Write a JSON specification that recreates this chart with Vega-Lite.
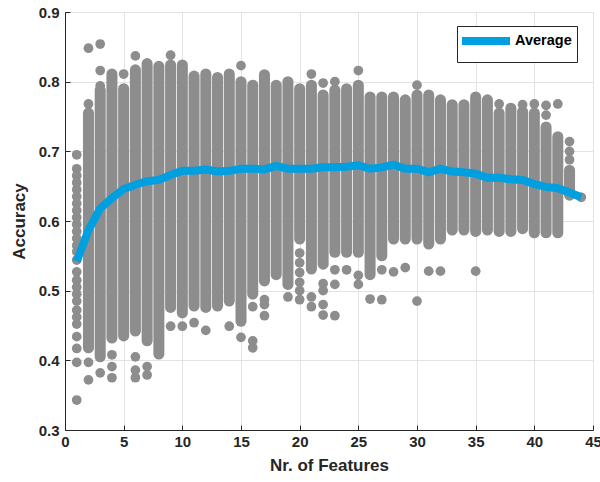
{
  "$schema": "https://vega.github.io/schema/vega-lite/v6.json",
  "width": 528,
  "height": 418,
  "autosize": {"type": "none"},
  "padding": {"left": 65, "top": 12, "right": 7, "bottom": 52},
  "background": "white",
  "datasets": {
    "spans": [
      {"n": 2, "lo": 0.418, "hi": 0.755}, {"n": 3, "lo": 0.405, "hi": 0.788},
      {"n": 4, "lo": 0.432, "hi": 0.811}, {"n": 5, "lo": 0.435, "hi": 0.79},
      {"n": 6, "lo": 0.442, "hi": 0.817}, {"n": 7, "lo": 0.428, "hi": 0.826},
      {"n": 8, "lo": 0.409, "hi": 0.822}, {"n": 9, "lo": 0.476, "hi": 0.824},
      {"n": 10, "lo": 0.468, "hi": 0.824}, {"n": 11, "lo": 0.478, "hi": 0.808},
      {"n": 12, "lo": 0.476, "hi": 0.811}, {"n": 13, "lo": 0.478, "hi": 0.806},
      {"n": 14, "lo": 0.485, "hi": 0.811}, {"n": 15, "lo": 0.456, "hi": 0.8},
      {"n": 16, "lo": 0.495, "hi": 0.795}, {"n": 17, "lo": 0.514, "hi": 0.81},
      {"n": 18, "lo": 0.523, "hi": 0.795}, {"n": 19, "lo": 0.509, "hi": 0.8},
      {"n": 20, "lo": 0.574, "hi": 0.79}, {"n": 21, "lo": 0.531, "hi": 0.795},
      {"n": 22, "lo": 0.538, "hi": 0.781}, {"n": 23, "lo": 0.555, "hi": 0.788},
      {"n": 24, "lo": 0.555, "hi": 0.79}, {"n": 25, "lo": 0.555, "hi": 0.795},
      {"n": 26, "lo": 0.523, "hi": 0.778}, {"n": 27, "lo": 0.55, "hi": 0.778},
      {"n": 28, "lo": 0.574, "hi": 0.778}, {"n": 29, "lo": 0.574, "hi": 0.774},
      {"n": 30, "lo": 0.574, "hi": 0.781}, {"n": 31, "lo": 0.567, "hi": 0.781},
      {"n": 32, "lo": 0.574, "hi": 0.774}, {"n": 33, "lo": 0.587, "hi": 0.767},
      {"n": 34, "lo": 0.587, "hi": 0.767}, {"n": 35, "lo": 0.585, "hi": 0.778},
      {"n": 36, "lo": 0.587, "hi": 0.774}, {"n": 37, "lo": 0.585, "hi": 0.755},
      {"n": 38, "lo": 0.585, "hi": 0.762}, {"n": 39, "lo": 0.589, "hi": 0.757},
      {"n": 40, "lo": 0.583, "hi": 0.755}, {"n": 41, "lo": 0.583, "hi": 0.735},
      {"n": 42, "lo": 0.583, "hi": 0.721}, {"n": 43, "lo": 0.637, "hi": 0.673}
    ],
    "points": [
      {"n": 1, "acc": 0.695}, {"n": 1, "acc": 0.675}, {"n": 1, "acc": 0.665},
      {"n": 1, "acc": 0.655}, {"n": 1, "acc": 0.645}, {"n": 1, "acc": 0.635},
      {"n": 1, "acc": 0.625}, {"n": 1, "acc": 0.615}, {"n": 1, "acc": 0.605},
      {"n": 1, "acc": 0.595}, {"n": 1, "acc": 0.585}, {"n": 1, "acc": 0.575},
      {"n": 1, "acc": 0.565}, {"n": 1, "acc": 0.556}, {"n": 1, "acc": 0.544},
      {"n": 1, "acc": 0.527}, {"n": 1, "acc": 0.515}, {"n": 1, "acc": 0.505},
      {"n": 1, "acc": 0.495}, {"n": 1, "acc": 0.485}, {"n": 1, "acc": 0.472},
      {"n": 1, "acc": 0.462}, {"n": 1, "acc": 0.452}, {"n": 1, "acc": 0.434},
      {"n": 1, "acc": 0.417}, {"n": 1, "acc": 0.397}, {"n": 1, "acc": 0.343},
      {"n": 2, "acc": 0.768}, {"n": 2, "acc": 0.848}, {"n": 2, "acc": 0.397}, {"n": 2, "acc": 0.372},
      {"n": 3, "acc": 0.854}, {"n": 3, "acc": 0.816}, {"n": 3, "acc": 0.794}, {"n": 3, "acc": 0.382},
      {"n": 4, "acc": 0.408}, {"n": 4, "acc": 0.391}, {"n": 4, "acc": 0.375},
      {"n": 5, "acc": 0.811},
      {"n": 6, "acc": 0.837}, {"n": 6, "acc": 0.405}, {"n": 6, "acc": 0.386}, {"n": 6, "acc": 0.375},
      {"n": 7, "acc": 0.391}, {"n": 7, "acc": 0.379},
      {"n": 9, "acc": 0.838}, {"n": 9, "acc": 0.449},
      {"n": 10, "acc": 0.449},
      {"n": 11, "acc": 0.454},
      {"n": 12, "acc": 0.443},
      {"n": 14, "acc": 0.449},
      {"n": 15, "acc": 0.823}, {"n": 15, "acc": 0.433},
      {"n": 16, "acc": 0.477}, {"n": 16, "acc": 0.428}, {"n": 16, "acc": 0.418},
      {"n": 17, "acc": 0.487}, {"n": 17, "acc": 0.48}, {"n": 17, "acc": 0.464},
      {"n": 19, "acc": 0.491},
      {"n": 20, "acc": 0.554}, {"n": 20, "acc": 0.54}, {"n": 20, "acc": 0.526},
      {"n": 20, "acc": 0.512}, {"n": 20, "acc": 0.5}, {"n": 20, "acc": 0.487},
      {"n": 21, "acc": 0.811}, {"n": 21, "acc": 0.491}, {"n": 21, "acc": 0.477},
      {"n": 22, "acc": 0.798}, {"n": 22, "acc": 0.51}, {"n": 22, "acc": 0.5},
      {"n": 22, "acc": 0.48}, {"n": 22, "acc": 0.465},
      {"n": 23, "acc": 0.8}, {"n": 23, "acc": 0.53}, {"n": 23, "acc": 0.509}, {"n": 23, "acc": 0.464},
      {"n": 24, "acc": 0.53},
      {"n": 25, "acc": 0.816}, {"n": 25, "acc": 0.522}, {"n": 25, "acc": 0.509},
      {"n": 26, "acc": 0.488},
      {"n": 27, "acc": 0.53}, {"n": 27, "acc": 0.487},
      {"n": 28, "acc": 0.527},
      {"n": 29, "acc": 0.533},
      {"n": 30, "acc": 0.795}, {"n": 30, "acc": 0.485},
      {"n": 31, "acc": 0.528},
      {"n": 32, "acc": 0.528},
      {"n": 35, "acc": 0.528},
      {"n": 37, "acc": 0.768},
      {"n": 39, "acc": 0.767},
      {"n": 40, "acc": 0.768},
      {"n": 41, "acc": 0.766}, {"n": 41, "acc": 0.752},
      {"n": 42, "acc": 0.768},
      {"n": 43, "acc": 0.714}, {"n": 43, "acc": 0.7}, {"n": 43, "acc": 0.688},
      {"n": 44, "acc": 0.634}
    ],
    "average": [
      {"n": 1, "acc": 0.542, "series": "Average"}, {"n": 2, "acc": 0.587, "series": "Average"},
      {"n": 3, "acc": 0.618, "series": "Average"}, {"n": 4, "acc": 0.633, "series": "Average"},
      {"n": 5, "acc": 0.646, "series": "Average"}, {"n": 6, "acc": 0.652, "series": "Average"},
      {"n": 7, "acc": 0.657, "series": "Average"}, {"n": 8, "acc": 0.659, "series": "Average"},
      {"n": 9, "acc": 0.666, "series": "Average"}, {"n": 10, "acc": 0.672, "series": "Average"},
      {"n": 11, "acc": 0.672, "series": "Average"}, {"n": 12, "acc": 0.674, "series": "Average"},
      {"n": 13, "acc": 0.671, "series": "Average"}, {"n": 14, "acc": 0.672, "series": "Average"},
      {"n": 15, "acc": 0.675, "series": "Average"}, {"n": 16, "acc": 0.675, "series": "Average"},
      {"n": 17, "acc": 0.674, "series": "Average"}, {"n": 18, "acc": 0.679, "series": "Average"},
      {"n": 19, "acc": 0.675, "series": "Average"}, {"n": 20, "acc": 0.675, "series": "Average"},
      {"n": 21, "acc": 0.675, "series": "Average"}, {"n": 22, "acc": 0.677, "series": "Average"},
      {"n": 23, "acc": 0.677, "series": "Average"}, {"n": 24, "acc": 0.678, "series": "Average"},
      {"n": 25, "acc": 0.68, "series": "Average"}, {"n": 26, "acc": 0.675, "series": "Average"},
      {"n": 27, "acc": 0.677, "series": "Average"}, {"n": 28, "acc": 0.681, "series": "Average"},
      {"n": 29, "acc": 0.675, "series": "Average"}, {"n": 30, "acc": 0.675, "series": "Average"},
      {"n": 31, "acc": 0.67, "series": "Average"}, {"n": 32, "acc": 0.675, "series": "Average"},
      {"n": 33, "acc": 0.671, "series": "Average"}, {"n": 34, "acc": 0.67, "series": "Average"},
      {"n": 35, "acc": 0.668, "series": "Average"}, {"n": 36, "acc": 0.662, "series": "Average"},
      {"n": 37, "acc": 0.662, "series": "Average"}, {"n": 38, "acc": 0.66, "series": "Average"},
      {"n": 39, "acc": 0.659, "series": "Average"}, {"n": 40, "acc": 0.653, "series": "Average"},
      {"n": 41, "acc": 0.649, "series": "Average"}, {"n": 42, "acc": 0.647, "series": "Average"},
      {"n": 43, "acc": 0.641, "series": "Average"}, {"n": 44, "acc": 0.634, "series": "Average"}
    ]
  },
  "layer": [
    {
      "data": {"name": "spans"},
      "mark": {"type": "rule", "strokeWidth": 11, "strokeCap": "round", "color": "#8d8d8d"},
      "encoding": {
        "x": {"field": "n", "type": "quantitative", "scale": {"domain": [0, 45], "nice": false},
          "axis": {"values": [0, 5, 10, 15, 20, 25, 30, 35, 40, 45], "title": "Nr. of Features", "labelFlush": false}},
        "y": {"field": "lo", "type": "quantitative", "scale": {"domain": [0.3, 0.9], "nice": false, "zero": false},
          "axis": {"values": [0.3, 0.4, 0.5, 0.6, 0.7, 0.8, 0.9], "format": ".1f", "title": "Accuracy", "labelFlush": false}},
        "y2": {"field": "hi"}
      }
    },
    {
      "data": {"name": "points"},
      "mark": {"type": "circle", "size": 95, "opacity": 1, "color": "#8d8d8d"},
      "encoding": {
        "x": {"field": "n", "type": "quantitative"},
        "y": {"field": "acc", "type": "quantitative"}
      }
    },
    {
      "data": {"name": "average"},
      "mark": {"type": "line", "strokeWidth": 8},
      "encoding": {
        "x": {"field": "n", "type": "quantitative"},
        "y": {"field": "acc", "type": "quantitative"},
        "color": {"field": "series", "type": "nominal",
          "scale": {"domain": ["Average"], "range": ["#009fe0"]},
          "legend": {"title": null, "orient": "none", "legendX": 392, "legendY": 14}}
      }
    }
  ],
  "config": {
    "font": "Liberation Sans",
    "view": {"stroke": "#d6d6d6", "strokeWidth": 1},
    "axis": {
      "labelFontSize": 15,
      "labelFontWeight": "bold",
      "labelColor": "#262626",
      "titleFontSize": 17,
      "titleFontWeight": "bold",
      "titleColor": "#262626",
      "domainColor": "#262626",
      "domainWidth": 1,
      "tickColor": "#262626",
      "tickSize": -5,
      "gridColor": "#e3e3e3",
      "gridWidth": 1,
      "labelOverlap": false
    },
    "axisX": {"labelPadding": 9, "titlePadding": 8},
    "axisY": {"labelPadding": 11, "titlePadding": 10},
    "legend": {
      "strokeColor": "#262626",
      "fillColor": "white",
      "padding": 5,
      "cornerRadius": 0,
      "symbolType": "M-4,0H4",
      "symbolStrokeWidth": 8,
      "symbolSize": 144,
      "symbolOffset": 14,
      "labelFontSize": 14.5,
      "labelFontWeight": "bold",
      "labelColor": "#000000",
      "labelOffset": 19
    }
  }
}
